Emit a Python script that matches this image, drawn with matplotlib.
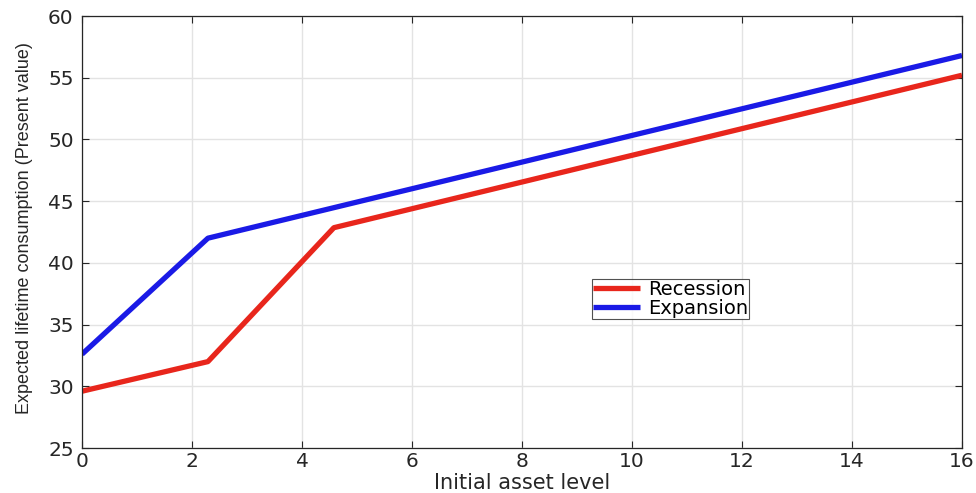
import numpy as np
import matplotlib.pyplot as plt

# piecewise-linear consumption curves (kinks read at the borrowing limits)
asset_rec = [0.0, 2.29, 4.58, 16.0]
cons_rec = [29.6, 32.0, 42.85, 55.2]
asset_exp = [0.0, 2.29, 16.0]
cons_exp = [32.6, 42.0, 56.8]

xticks = np.arange(0, 17, 2)
yticks = np.arange(25, 61, 5)

plt.rcParams['font.family'] = ['DejaVu Sans']

fig = plt.figure(figsize=(9.76, 4.93), dpi=100)
ax = fig.add_axes([82/976, 1 - 448/493, 880/976, 432/493])

ax.plot(asset_rec, cons_rec, color='#e8261c', lw=3.8, label='Recession', solid_capstyle='butt')
ax.plot(asset_exp, cons_exp, color='#1a1ae6', lw=3.8, label='Expansion', solid_capstyle='butt')

ax.set_xlim(0, 16)
ax.set_ylim(25, 60)
ax.set_xticks(xticks)
ax.set_yticks(yticks)
ax.grid(True, color='#e3e3e3', lw=1.0)
ax.set_axisbelow(True)
ax.tick_params(direction='in', length=5, width=0.8, colors='#262626', labelsize=14.5,
               top=True, right=True)
ax.tick_params(axis='x', pad=3)
ax.tick_params(axis='y', pad=6)
for s in ax.spines.values():
    s.set_color('#262626')
    s.set_linewidth(0.9)

ax.set_xlabel('Initial asset level', fontsize=15, color='#262626')
ax.xaxis.set_label_coords(0.5, -0.095)
ax.xaxis.label.set_va('baseline')
ax.set_ylabel('Expected lifetime consumption (Present value)', fontsize=13,
              color='#262626', family='Liberation Sans')
ax.yaxis.set_label_coords(-0.056, 0.51)

leg = ax.legend(loc='upper left', bbox_to_anchor=(592/976, 1 - 279/493),
                bbox_transform=fig.transFigure, fontsize=14, frameon=True,
                fancybox=False, edgecolor='#262626', handlelength=2.4,
                handletextpad=0.45, borderpad=0.05, labelspacing=0.0,
                borderaxespad=0)
leg.get_frame().set_linewidth(0.8)

fig.savefig('out.png', dpi=100)
